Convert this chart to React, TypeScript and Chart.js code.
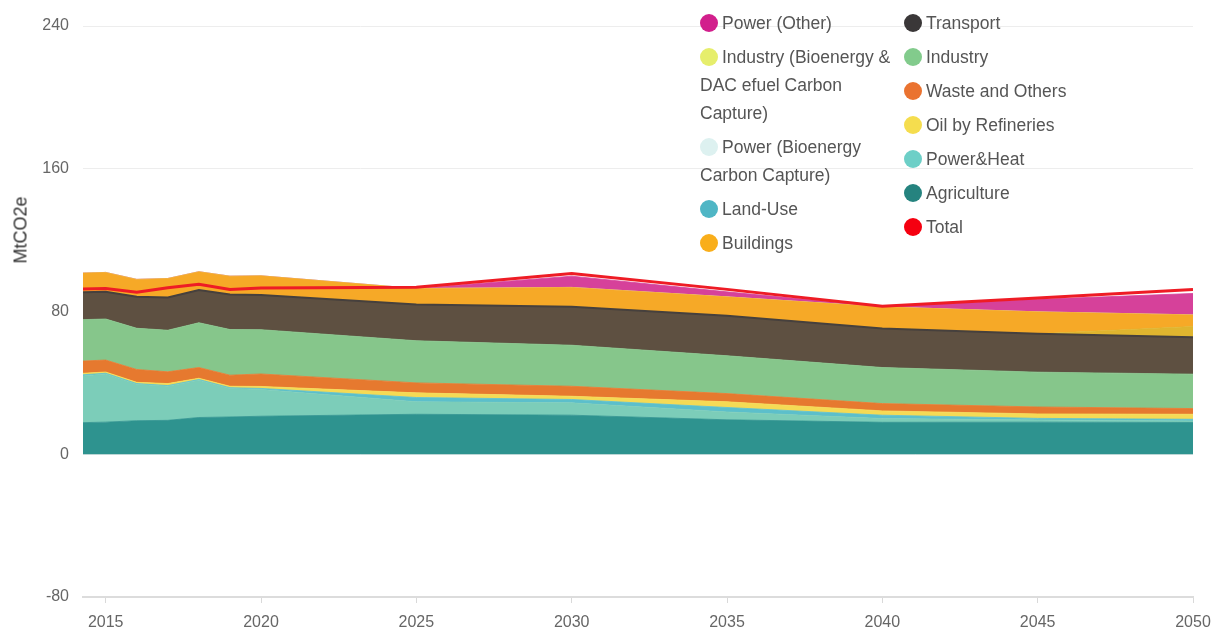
import React, { useEffect, useRef } from "react";
import { Chart, registerables } from "chart.js";

Chart.register(...registerables);

const years = [2014, 2015, 2016, 2017, 2018, 2019, 2020, 2025, 2030, 2035, 2040, 2045, 2050];
const agriculture = [17.6, 18.0, 18.8, 19.0, 20.6, 20.9, 21.3, 22.4, 21.9, 19.3, 17.9, 18.0, 17.8];
const powerHeat = [25.9, 27.0, 20.4, 19.1, 20.9, 15.9, 15.0, 7.0, 6.9, 4.4, 2.1, 1.2, 0.9];
const landUse = [0.7, 0.4, 0.4, 0.4, 0.4, 0.5, 0.6, 2.4, 1.9, 2.5, 1.9, 0.9, 0.9];
const oilRefineries = [0.9, 0.7, 0.7, 1.1, 0.7, 0.8, 1.1, 2.6, 1.8, 3.2, 2.4, 2.5, 2.8];
const wasteOthers = [6.9, 6.7, 7.2, 6.6, 6.0, 6.2, 7.0, 5.6, 5.6, 4.6, 4.1, 3.9, 3.2];
const industry = [23.3, 23.0, 23.1, 23.3, 25.1, 25.6, 24.8, 23.6, 23.0, 21.2, 20.2, 19.5, 19.3];
const transport = [15.4, 15.3, 17.7, 18.4, 18.3, 19.6, 19.4, 20.3, 21.5, 22.4, 21.9, 21.5, 20.6];
const industryBioDac = [0, 0, 0, 0, 0, 0, 0, 0, 0, 0, 0, 0, 6.1];
const buildings = [10.7, 10.8, 9.7, 10.6, 10.3, 10.3, 10.8, 9.0, 10.9, 10.6, 12.1, 12.3, 6.5];
const powerBioCC = [0, 0, 0, 0, 0, 0, 0, 0, 0, 0, 0, 0, 0];
const powerOther = [0, 0, 0, 0, 0, 0, 0, 0, 6.3, 2.8, 0, 7.0, 12.0];
const total = [92.5, 92.9, 90.8, 93.3, 95.3, 92.3, 93.2, 93.6, 101.3, 92.4, 83.0, 87.6, 92.4];

const xTickYears = [2015, 2020, 2025, 2030, 2035, 2040, 2045, 2050];
const yTickValues = [-80, 0, 80, 160, 240];
const yTitle = "MtCO2e";

const FONT = '"Liberation Sans", Arial, sans-serif';

type Series = { name: string; data: number[]; fill: string; line?: string; lineWidth?: number };

// bottom-to-top stacking order
const stackSeries: Series[] = [
  { name: "Agriculture", data: agriculture, fill: "#2E938F" },
  { name: "Power&Heat", data: powerHeat, fill: "#7CCDB9" },
  { name: "Land-Use", data: landUse, fill: "#5CBFCB" },
  { name: "Oil by Refineries", data: oilRefineries, fill: "#F5DA55" },
  { name: "Waste and Others", data: wasteOthers, fill: "#E6792F" },
  { name: "Industry", data: industry, fill: "#86C68B" },
  { name: "Transport", data: transport, fill: "#5E5041", line: "#46403D", lineWidth: 2 },
  { name: "Industry (Bioenergy & DAC efuel Carbon Capture)", data: industryBioDac, fill: "#DFB52F" },
  { name: "Buildings", data: buildings, fill: "#F6A927" },
  { name: "Power (Bioenergy Carbon Capture)", data: powerBioCC, fill: "#DDF1F0" },
  { name: "Power (Other)", data: powerOther, fill: "#D6419A" },
];

const legendCol1: [string, string][] = [
  ["Power (Other)", "#D21F8C"],
  ["Industry (Bioenergy & DAC efuel Carbon Capture)", "#E6EE6C"],
  ["Power (Bioenergy Carbon Capture)", "#DDF1F0"],
  ["Land-Use", "#4FB6C5"],
  ["Buildings", "#F9AE1A"],
];
const legendCol2: [string, string][] = [
  ["Transport", "#3A3738"],
  ["Industry", "#82CB8C"],
  ["Waste and Others", "#EA7330"],
  ["Oil by Refineries", "#F5DD4E"],
  ["Power&Heat", "#6DCFC7"],
  ["Agriculture", "#25837F"],
  ["Total", "#F50010"],
];

function LegendColumn({ items, left, width }: { items: [string, string][]; left: number; width: number }) {
  return (
    <div style={{ position: "absolute", left, top: 9, width }}>
      {items.map(([name, color]) => (
        <div
          key={name}
          style={{
            fontFamily: FONT,
            fontSize: 17.5,
            lineHeight: "28px",
            color: "#555",
            marginBottom: 6,
            whiteSpace: "normal",
          }}
        >
          <span
            style={{
              display: "inline-block",
              width: 18,
              height: 18,
              borderRadius: "50%",
              background: color,
              verticalAlign: "-3px",
              marginRight: 4,
            }}
          />
          {name}
        </div>
      ))}
    </div>
  );
}

export default function App() {
  const canvasRef = useRef<HTMLCanvasElement | null>(null);

  useEffect(() => {
    const canvas = canvasRef.current;
    if (!canvas) return;
    const datasets: any[] = stackSeries.map((s, i) => ({
      label: s.name,
      data: years.map((y, j) => ({ x: y, y: s.data[j] })),
      backgroundColor: s.fill,
      borderColor: s.line ?? s.fill,
      borderWidth: s.lineWidth ?? 0.8,
      fill: i === 0 ? "origin" : "-1",
      pointRadius: 0,
      tension: 0,
      stack: "emissions",
      order: 1,
    }));
    datasets.push({
      label: "Total",
      data: years.map((y, j) => ({ x: y, y: total[j] })),
      borderColor: "#EE1C25",
      backgroundColor: "#EE1C25",
      borderWidth: 3,
      fill: false,
      pointRadius: 0,
      tension: 0,
      stack: "total",
      order: 0,
    });

    const chart = new Chart(canvas, {
      type: "line",
      data: { datasets },
      options: {
        animation: false,
        responsive: true,
        maintainAspectRatio: false,
        layout: { padding: { top: 26, right: 30, left: 0, bottom: 0 } },
        plugins: { legend: { display: false }, tooltip: { enabled: false } },
        scales: {
          x: {
            type: "linear",
            min: 2014.27,
            max: 2050,
            afterBuildTicks: (s: any) => {
              s.ticks = xTickYears.map((v) => ({ value: v }));
            },
            afterFit: (s: any) => {
              s.height = 38;
            },
            grid: { drawOnChartArea: false, drawTicks: true, tickLength: 6, color: "#d9d9d9" },
            border: { display: true, color: "#dcdcdc", width: 2 },
            ticks: {
              color: "#666",
              font: { family: FONT, size: 16 },
              padding: 10,
              maxRotation: 0,
              callback: (v: any) => String(v),
            },
          },
          y: {
            type: "linear",
            stacked: true,
            min: -80,
            max: 240,
            afterBuildTicks: (s: any) => {
              s.ticks = yTickValues.map((v) => ({ value: v }));
            },
            afterFit: (s: any) => {
              s.width = 83;
            },
            grid: { color: "#ededed", drawTicks: false },
            border: { display: false },
            ticks: {
              color: "#666",
              font: { family: FONT, size: 16 },
              padding: 14,
              callback: (v: any) => String(v),
            },
          },
        },
      },
    });
    return () => chart.destroy();
  }, []);

  return (
    <div style={{ position: "fixed", left: 0, top: 0, width: 1223, height: 635, background: "#fff" }}>
      <canvas ref={canvasRef} />
      <div
        style={{
          position: "absolute",
          left: 21,
          top: 230,
          transform: "translate(-50%, -50%) rotate(-90deg)",
          fontFamily: FONT,
          fontSize: 18,
          color: "#333",
          whiteSpace: "nowrap",
        }}
      >
        {yTitle}
      </div>
      <LegendColumn items={legendCol1} left={700} width={198} />
      <LegendColumn items={legendCol2} left={904} width={220} />
    </div>
  );
}
